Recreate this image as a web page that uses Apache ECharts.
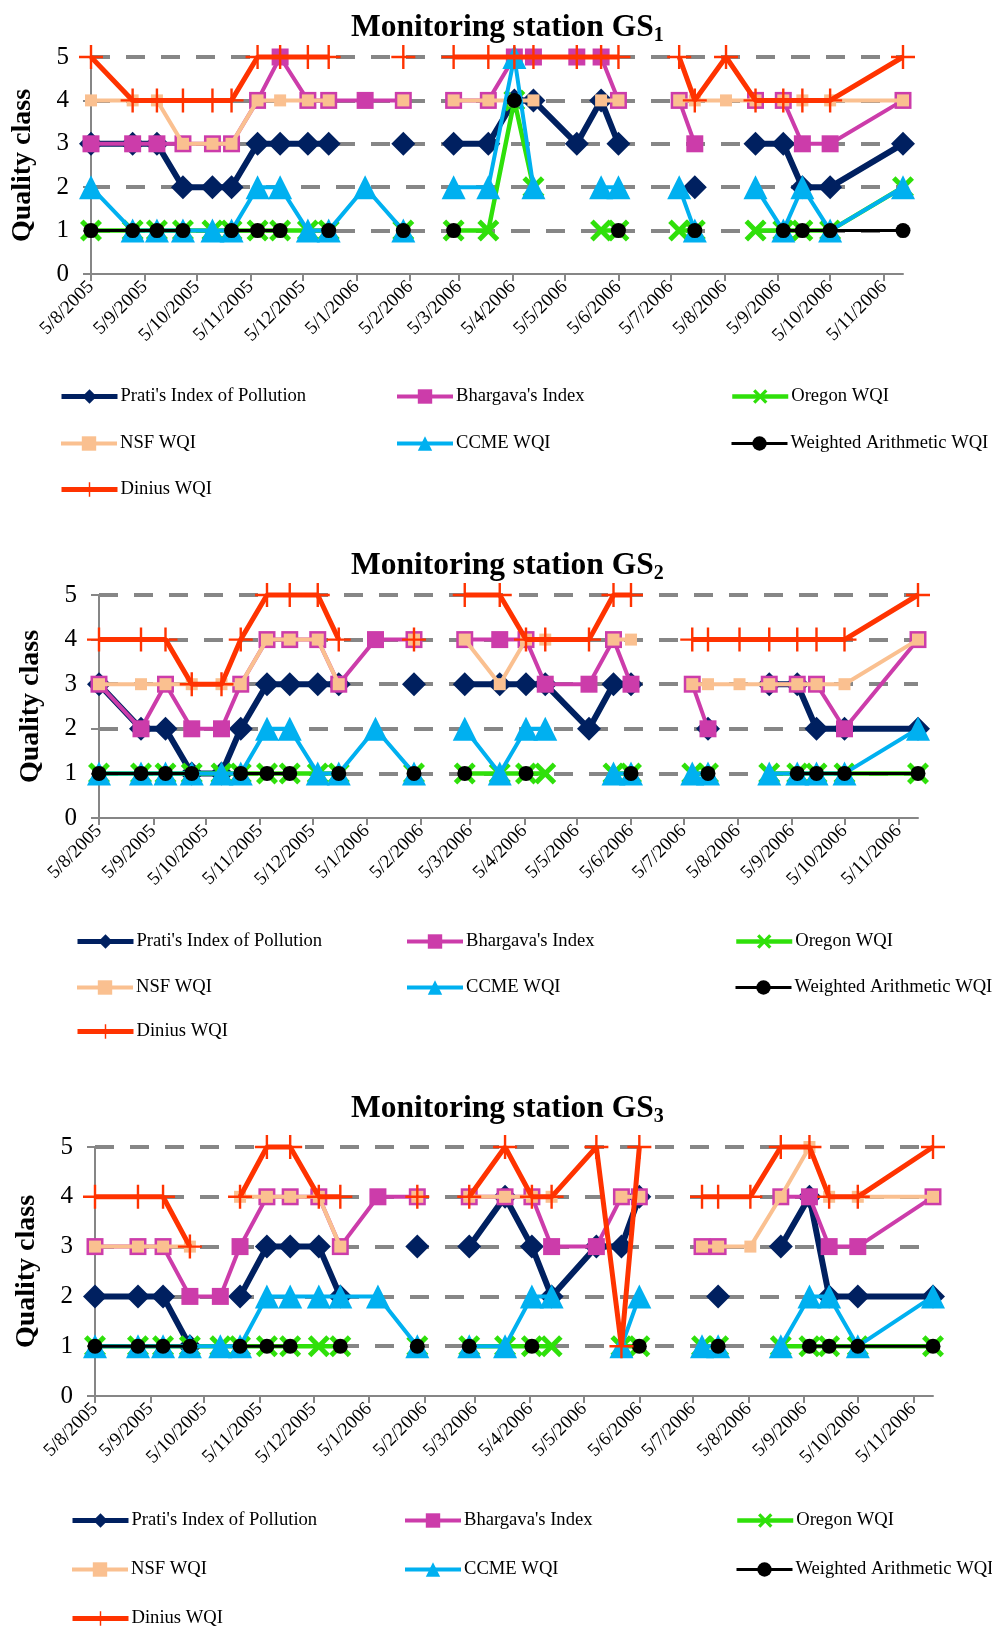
<!DOCTYPE html>
<html><head><meta charset="utf-8">
<script src="https://cdn.jsdelivr.net/npm/echarts@6/dist/echarts.min.js"></script>
<style>html,body{margin:0;padding:0;background:#fff}#c{width:992px;height:1629px}</style>
</head><body><div id="c"></div>
<script>
const N = null;
// sampling dates (two empty rows break the lines, as in the original sheet)
const sampleDates = ['2005-08-05','2005-08-29','2005-09-12','2005-09-27','2005-10-14','2005-10-25','2005-11-09','2005-11-22','2005-12-08','2005-12-20','2006-01-10','2006-02-01','2006-02-15','2006-03-02','2006-03-22','2006-04-06','2006-04-17','2006-05-12','2006-05-26','2006-06-05','2006-06-20','2006-07-10','2006-07-19','2006-08-06','2006-08-23','2006-09-08','2006-09-19','2006-10-05','2006-11-16'];
const tickLabels = ['5/8/2005','5/9/2005','5/10/2005','5/11/2005','5/12/2005','5/1/2006','5/2/2006','5/3/2006','5/4/2006','5/5/2006','5/6/2006','5/7/2006','5/8/2006','5/9/2006','5/10/2006','5/11/2006'];
const yTicks = [0,1,2,3,4,5];
const seriesNames = ["Prati's Index of Pollution","Bhargava's Index","Oregon WQI","NSF WQI","CCME WQI","Weighted Arithmetic WQI","Dinius WQI"];
const stationSubs = ['1','2','3'];

// GS1
const gs1Prati    = [3,3,3,2,2,2,3,3,3,3,N,3,N,3,3,4,4,3,4,3,N,N,2,N,3,3,2,2,3];
const gs1Bhargava = [3,3,3,3,3,3,4,5,4,4,4,4,N,4,4,5,5,5,5,4,N,4,3,N,4,4,3,3,4];
const gs1Oregon   = [1,1,1,1,1,1,1,1,1,1,N,1,N,1,1,4,2,N,1,1,N,1,1,N,1,1,1,1,2];
const gs1NSF      = [4,4,4,3,3,3,4,4,4,4,N,4,N,4,4,4,4,N,4,4,N,4,4,4,4,4,4,4,4];
const gs1CCME     = [2,1,1,1,1,1,2,2,1,1,2,1,N,2,2,5,2,N,2,2,N,2,1,N,2,1,2,1,2];
const gs1WA       = [1,1,1,1,N,1,1,1,N,1,N,1,N,1,N,4,N,N,N,1,N,N,1,N,N,1,1,1,1];
const gs1Dinius   = [5,4,4,4,4,4,5,5,5,5,N,5,N,5,5,5,5,5,5,5,N,5,4,5,4,4,4,4,5];
// GS2
const gs2Prati    = [3,2,2,1,1,2,3,3,3,3,N,3,N,3,3,3,3,2,3,3,N,N,2,N,3,3,2,2,2];
const gs2Bhargava = [3,2,3,2,2,3,4,4,4,3,4,4,N,4,4,4,3,3,4,3,N,3,2,N,3,3,3,2,4];
const gs2Oregon   = [1,1,1,1,1,1,1,1,1,1,N,1,N,1,1,1,1,N,1,1,N,1,1,N,1,1,1,1,1];
const gs2NSF      = [3,3,3,3,3,3,4,4,4,3,N,4,N,4,3,4,4,N,4,4,N,3,3,3,3,3,3,3,4];
const gs2CCME     = [1,1,1,1,1,1,2,2,1,1,2,1,N,2,1,2,2,N,1,1,N,1,1,N,1,1,1,1,2];
const gs2WA       = [1,1,1,1,N,1,1,1,N,1,N,1,N,1,N,1,N,N,N,1,N,N,1,N,N,1,1,1,1];
const gs2Dinius   = [4,4,4,3,3,4,5,5,5,4,N,4,N,5,5,4,4,4,5,5,N,4,4,4,4,4,4,4,5];
// GS3
const gs3Prati    = [2,2,2,1,N,2,3,3,3,2,N,3,N,3,4,3,2,3,3,4,N,N,2,N,3,4,2,2,2];
const gs3Bhargava = [3,3,3,2,2,3,4,4,4,3,4,4,N,4,4,4,3,3,4,4,N,3,3,N,4,4,3,3,4];
const gs3Oregon   = [1,1,1,1,1,1,1,1,1,1,N,1,N,1,1,1,1,N,1,1,N,1,1,N,1,1,1,1,1];
const gs3NSF      = [3,3,3,3,N,4,4,4,4,3,N,4,N,4,4,4,4,N,4,4,N,3,3,3,4,5,4,4,4];
const gs3CCME     = [1,1,1,1,1,1,2,2,2,2,2,1,N,1,1,2,2,N,1,2,N,1,1,N,1,2,2,1,2];
const gs3WA       = [1,1,1,1,N,1,1,1,N,1,N,1,N,1,N,1,N,N,N,1,N,N,1,N,N,1,1,1,1];
const gs3Dinius   = [4,4,4,3,N,4,5,5,4,4,N,4,N,4,5,4,4,5,1,5,N,4,4,4,5,5,4,4,5];

const stations = [
  [gs1Prati,gs1Bhargava,gs1Oregon,gs1NSF,gs1CCME,gs1WA,gs1Dinius],
  [gs2Prati,gs2Bhargava,gs2Oregon,gs2NSF,gs2CCME,gs2WA,gs2Dinius],
  [gs3Prati,gs3Bhargava,gs3Oregon,gs3NSF,gs3CCME,gs3WA,gs3Dinius]
];

function isoTs(s){const p=s.split('-').map(Number);return Date.UTC(p[0],p[1]-1,p[2]);}
function dmyTs(s){const p=s.split('/').map(Number);return Date.UTC(p[2],p[1]-1,p[0]);}
const tickTs = tickLabels.map(dmyTs);
const xTs = sampleDates.map(isoTs);

const XPATH = 'path://M0,1.6 L1.6,0 L5,3.4 L8.4,0 L10,1.6 L6.6,5 L10,8.4 L8.4,10 L5,6.6 L1.6,10 L0,8.4 L3.4,5 Z';
const PLUS = 'path://M4.5,0 L5.5,0 L5.5,4.5 L10,4.5 L10,5.5 L5.5,5.5 L5.5,10 L4.5,10 L4.5,5.5 L0,5.5 L0,4.5 L4.5,4.5 Z';
const styles = [
  {color:'#002060', symbol:'diamond', size:24, lw:6},
  {color:'#cc3caa', symbol:'rect', size:17, lw:4},
  {color:'#2fe00a', symbol:XPATH, size:22, lw:4.5},
  {color:'#fac090', symbol:'rect', size:12, lw:4},
  {color:'#00b0f0', symbol:'triangle', size:24, lw:4},
  {color:'#000000', symbol:'circle', size:15, lw:3},
  {color:'#ff3300', symbol:PLUS, size:24, lw:5}
];

const panels = [
  {grid:{left:91,top:57,width:812,height:217}, titleTop:5, rows:[396,443,489], cols:[59,395,730]},
  {grid:{left:99,top:595,width:819,height:223}, titleTop:543, rows:[941,987,1031], cols:[75,405,734]},
  {grid:{left:95,top:1147,width:838,height:249}, titleTop:1086, rows:[1520,1569,1618], cols:[70,403,735]}
];

const FONT = '"Liberation Serif","Times New Roman",serif';
const option = {animation:false, backgroundColor:'#fff', title:[], grid:[], xAxis:[], yAxis:[], legend:[], series:[]};

panels.forEach((P, p) => {
  option.title.push({
    text:'{m|Monitoring station GS}{s|'+stationSubs[p]+'}',
    left:346, top:P.titleTop,
    textStyle:{rich:{
      m:{fontFamily:FONT,fontWeight:'bold',fontSize:31.5,color:'#000',lineHeight:36},
      s:{fontFamily:FONT,fontWeight:'bold',fontSize:20,color:'#000',lineHeight:36,padding:[15,0,0,0]}
    }}
  });
  option.grid.push(Object.assign({containLabel:false}, P.grid));
  option.xAxis.push({
    type:'value', gridIndex:p, min:xTs[0], max:xTs[xTs.length-1],
    axisLine:{show:true, onZero:false, lineStyle:{color:'#868686', width:2}},
    axisTick:{show:true, customValues:tickTs, length:7, lineStyle:{color:'#868686', width:2}},
    axisLabel:{customValues:tickTs, rotate:45, margin:10, color:'#000', fontFamily:FONT, fontSize:19,
      showMinLabel:true, showMaxLabel:true,
      formatter:(v)=>{const i=tickTs.indexOf(v); return i>=0?tickLabels[i]:'';}},
    splitLine:{show:false}
  });
  option.yAxis.push({
    type:'value', gridIndex:p, min:yTicks[0], max:yTicks[yTicks.length-1], interval:1,
    name:'Quality class', nameLocation:'middle', nameRotate:90, nameGap:54,
    nameTextStyle:{fontFamily:FONT, fontWeight:'bold', fontSize:28, color:'#000'},
    axisLine:{show:true, lineStyle:{color:'#868686', width:2}},
    axisTick:{show:true, length:8, lineStyle:{color:'#868686', width:2}},
    axisLabel:{margin:22, color:'#000', fontFamily:FONT, fontSize:25},
    splitLine:{show:true, showMinLine:false, lineStyle:{color:'#868686', width:4, type:[19,16]}}
  });
  stations[p].forEach((arr, k) => {
    const st = styles[k];
    option.series.push({
      type:'line', name:seriesNames[k], xAxisIndex:p, yAxisIndex:p,
      data: xTs.map((t,i)=>[t, arr[i]==null?'-':arr[i]]),
      symbol:st.symbol, symbolSize:st.size, showSymbol:true, showAllSymbol:true,
      connectNulls:false, clip:false,
      lineStyle:{color:st.color, width:st.lw},
      itemStyle:{color:st.color, borderWidth:0, opacity:1},
      emphasis:{disabled:true}, z:2+k
    });
  });
  seriesNames.forEach((nm, k) => {
    const r = Math.floor(k/3), c = k%3;
    option.legend.push({
      data:[nm], left:P.cols[c], top:P.rows[r]-9, padding:0,
      itemWidth:56, itemHeight:18, selectedMode:false,
      lineStyle:{width:Math.min(styles[k].lw,5)},
      textStyle:{fontFamily:FONT, fontSize:18.6, color:'#000', padding:[0,0,0,-2]}
    });
  });
});

const chart = echarts.init(document.getElementById('c'), null, {renderer:'canvas'});
chart.setOption(option);
</script></body></html>
